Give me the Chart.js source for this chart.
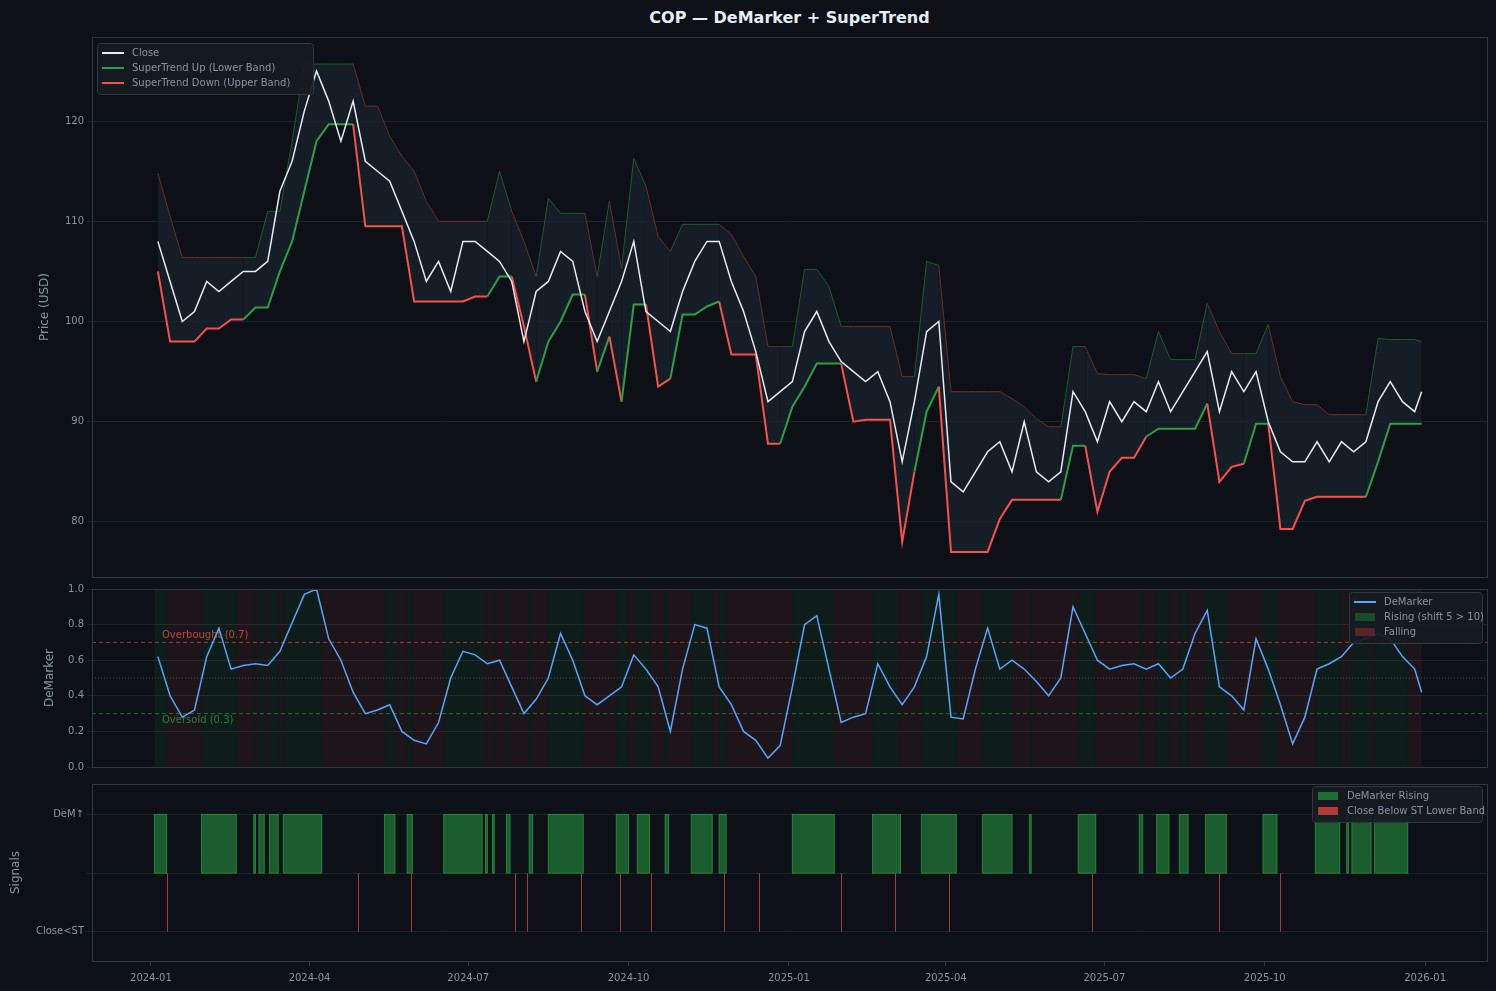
<!DOCTYPE html>
<html>
<head>
<meta charset="utf-8">
<script src="https://cdn.jsdelivr.net/npm/chart.js@4.4.1/dist/chart.umd.min.js"></script>
<style>
  body { margin: 0; background: #0d1117; width: 1496px; height: 991px; overflow: hidden; position: relative; font-family: "DejaVu Sans", sans-serif; }
  canvas { position: absolute; left: 0; }
  #title { position: absolute; top: 8px; left: 92px; width: 1395px; text-align: center; color: #e6edf3; font-weight: bold; font-size: 16px; }
</style>
</head>
<body>
<div id="title">COP — DeMarker + SuperTrend</div>
<canvas id="price" width="1496" height="586" style="top:0"></canvas>
<canvas id="dem" width="1496" height="200" style="top:580px"></canvas>
<canvas id="sig" width="1496" height="216" style="top:775px"></canvas>
<script>
// weekly samples, x = days since 2024-01-01
const days = Array.from({length: 104}, (_, k) => 4 + 7 * k).concat([729]);

const close = [108,104,100,101,104,103,104,105,105,106,
  113,116,121,125,122,118,122,116,115,114,
  111,108,104,106,103,108,108,107,106,104,
  98,103,104,107,106,101,98,101,104,108,
  101,100,99,103,106,108,108,104,101,97,
  92,93,94,99,101,98,96,95,94,95,
  92,86,92,99,100,84,83,85,87,88,
  85,90,85,84,85,93,91,88,92,90,
  92,91,94,91,93,95,97,91,95,93,
  95,90,87,86,86,88,86,88,87,88,
  92,94,92,91,93];

const lowerBand = [105,98,98,98,99.3,99.3,100.2,100.2,101.4,101.4,
  105,108,113,118,119.7,119.7,119.7,109.5,109.5,109.5,
  109.5,102,102,102,102,102,102.5,102.5,104.5,104.5,
  99.5,94,98,100,102.7,102.7,95,98.5,92,101.7,
  101.7,93.5,94.3,100.7,100.7,101.5,102,96.7,96.7,96.7,
  87.8,87.8,91.5,93.5,95.8,95.8,95.8,90,90.2,90.2,
  90.2,78,85,91,93.5,77,77,77,77,80.3,
  82.2,82.2,82.2,82.2,82.2,87.6,87.6,81,85,86.4,
  86.4,88.5,89.3,89.3,89.3,89.3,91.8,84,85.5,85.8,
  89.8,89.8,79.3,79.3,82.1,82.5,82.5,82.5,82.5,82.5,
  86,89.8,89.8,89.8,89.8];

const upperBand = [114.8,110.5,106.4,106.4,106.4,106.4,106.4,106.4,106.4,111,
  111,118,125.7,125.7,125.7,125.7,125.7,121.5,121.5,118.5,
  116.5,115,112,110,110,110,110,110,115,111,
  108,104.5,112.3,110.8,110.8,110.8,104.5,112,105.3,116.3,
  113.5,108.5,107,109.7,109.7,109.7,109.7,108.7,106.5,104.5,
  97.5,97.5,97.5,105.2,105.2,103.5,99.5,99.5,99.5,99.5,
  99.5,94.5,94.5,106,105.6,93,93,93,93,93,
  92.3,91.5,90.3,89.5,89.5,97.5,97.5,94.8,94.7,94.7,
  94.7,94.3,99,96.2,96.2,96.2,101.8,99,96.8,96.8,
  96.8,99.7,94.5,92,91.7,91.7,90.7,90.7,90.7,90.7,
  98.3,98.2,98.2,98.2,98];

// 1 = uptrend (green), 0 = downtrend (red)
const trendUp = [1,0,0,0,0,0,0,0,1,1,
  1,1,1,1,1,1,1,0,0,0,
  0,0,0,0,0,0,0,0,1,1,
  0,0,1,1,1,1,0,1,0,1,
  1,0,0,1,1,1,1,0,0,0,
  0,0,1,1,1,1,1,0,0,0,
  0,0,0,1,1,0,0,0,0,0,
  0,0,0,0,0,1,1,0,0,0,
  0,0,1,1,1,1,1,0,0,0,
  1,1,0,0,0,0,0,0,0,0,
  1,1,1,1,1];

const demarker = [0.62,0.40,0.28,0.32,0.62,0.78,0.55,0.57,0.58,0.57,
  0.65,0.81,0.97,1.0,0.72,0.60,0.42,0.30,0.32,0.35,
  0.20,0.15,0.13,0.25,0.50,0.65,0.63,0.58,0.60,0.45,
  0.30,0.38,0.50,0.75,0.60,0.40,0.35,0.40,0.45,0.63,
  0.55,0.45,0.20,0.55,0.80,0.78,0.45,0.35,0.20,0.15,
  0.05,0.12,0.45,0.80,0.85,0.55,0.25,0.28,0.30,0.58,
  0.45,0.35,0.45,0.62,0.97,0.28,0.27,0.55,0.78,0.55,
  0.60,0.55,0.48,0.40,0.50,0.90,0.75,0.60,0.55,0.57,
  0.58,0.55,0.58,0.50,0.55,0.75,0.88,0.45,0.40,0.32,
  0.72,0.55,0.35,0.13,0.28,0.55,0.58,0.62,0.70,0.72,
  0.75,0.72,0.62,0.55,0.42];

// [start, end] in days, DeMarker rising (shift 5 > 10)
const risingSpans = [[2,9],[29,49],[59,60],[62,65],[68,73],[76,98],[134,140],[147,150],
  [168,190],[192,193],[196,197],[204,206],[217,219],[228,248],[267,274],[279,286],
  [295,297],[310,322],[326,330],[368,392],[414,428],[429,430],[442,462],[477,494],
  [504,505],[532,542],[567,569],[577,584],[590,595],[605,617],[638,646],[668,682],
  [686,687],[689,700],[702,721]];
const closeBelowST = [9,119,149,209,216,247,269,287,329,349,396,427,458,540,613,648];

const xTickDays = [0,91,182,274,366,456,547,639,731];
const priceTicks = [80,90,100,110,120];

const GREEN = '#2ea043', RED = '#f85149', GRID = '#1d232b', TXT = '#8b949e';
const font = { family: 'DejaVu Sans', size: 10 };

function fmtDay(d) {
  const dt = new Date(2024, 0, 1 + d);
  return dt.getFullYear() + '-' + String(dt.getMonth() + 1).padStart(2, '0');
}

function xScale(showLabels) {
  const s = {
    type: 'linear', min: -33.8, max: 766.5, display: showLabels,
    afterBuildTicks: s => { s.ticks = xTickDays.map(v => ({ value: v })); },
    ticks: { color: TXT, font, callback: v => fmtDay(v), maxRotation: 0, padding: 6 },
    grid: { display: true, drawOnChartArea: false, color: '#30363d', tickLength: 5 },
    border: { display: false }
  };
  if (showLabels) s.afterFit = sc => { sc.height = 30; };
  return s;
}
function yFit(s) { s.width = 92; }

function legendBox(ctx, x, y, w, items) {
  ctx.save();
  const h = items.length * 15 + 6;
  ctx.fillStyle = 'rgba(22,27,34,0.92)';
  ctx.strokeStyle = '#30363d';
  ctx.lineWidth = 1;
  ctx.beginPath(); ctx.roundRect(x + 0.5, y + 0.5, w, h, 3); ctx.fill(); ctx.stroke();
  ctx.font = '10px "DejaVu Sans"';
  ctx.textBaseline = 'middle';
  items.forEach((it, i) => {
    const cy = y + 10 + i * 15;
    if (it.type === 'line') {
      ctx.strokeStyle = it.color; ctx.lineWidth = 2;
      ctx.beginPath(); ctx.moveTo(x + 5, cy); ctx.lineTo(x + 27, cy); ctx.stroke();
    } else {
      ctx.fillStyle = it.color; ctx.fillRect(x + 6, cy - 4, 20, 8);
    }
    ctx.fillStyle = TXT; ctx.fillText(it.text, x + 35, cy);
  });
  ctx.restore();
}

function frame(chart) {
  const a = chart.chartArea, ctx = chart.ctx;
  ctx.save(); ctx.strokeStyle = '#30363d'; ctx.lineWidth = 1;
  ctx.strokeRect(a.left + 0.5, a.top + 0.5, a.right - a.left, a.bottom - a.top);
  ctx.restore();
}

function axisTitle(chart, text, x) {
  const a = chart.chartArea, ctx = chart.ctx;
  ctx.save(); ctx.translate(x, (a.top + a.bottom) / 2); ctx.rotate(-Math.PI / 2);
  ctx.fillStyle = TXT; ctx.font = '12px "DejaVu Sans"'; ctx.textAlign = 'center'; ctx.textBaseline = 'middle';
  ctx.fillText(text, 0, 0); ctx.restore();
}

const pts = arr => arr.map((v, i) => ({ x: days[i], y: v }));

// ---- price panel
new Chart(document.getElementById('price'), {
  type: 'line',
  data: {
    datasets: [
      { label: 'Close', data: pts(close), borderColor: '#e6edf3', borderWidth: 1.5, pointRadius: 0, tension: 0 , order: 0},
      { label: 'SuperTrend Up (Lower Band)', data: pts(lowerBand), borderWidth: 2, pointRadius: 0, order: 1,
        segment: { borderColor: c => trendUp[c.p1DataIndex] ? GREEN : RED } },
      { label: 'SuperTrend Down (Upper Band)', data: pts(upperBand), borderWidth: 1, pointRadius: 0, order: 2,
        fill: { target: 1 }, backgroundColor: 'rgba(24,33,46,0.75)',
        segment: { borderColor: c => trendUp[c.p1DataIndex] ? '#1d5a2c' : '#6e2a2a' } }
    ]
  },
  options: {
    responsive: false, devicePixelRatio: 1, animation: false,
    layout: { padding: { top: 37, bottom: 1, right: 9, left: 0 } },
    plugins: { legend: { display: false }, tooltip: { enabled: false } },
    scales: {
      x: xScale(false),
      y: { min: 74.5, max: 128.4, afterFit: yFit,
        afterBuildTicks: s => { s.ticks = priceTicks.map(v => ({ value: v })); },
        ticks: { color: TXT, font }, grid: { color: GRID, tickLength: 5 }, border: { display: false } }
    }
  },
  plugins: [{
    id: 'deco',
    afterDraw: c => {
      frame(c); axisTitle(c, 'Price (USD)', 45);
      legendBox(c.ctx, 97, 43, 216, [
        { type: 'line', color: '#e6edf3', text: 'Close' },
        { type: 'line', color: GREEN, text: 'SuperTrend Up (Lower Band)' },
        { type: 'line', color: RED, text: 'SuperTrend Down (Upper Band)' }]);
    }
  }]
});

// ---- DeMarker panel
function fallingSpans() {
  const out = []; let s = 2;
  risingSpans.forEach(r => { if (r[0] > s) out.push([s, r[0]]); s = r[1]; });
  if (s < 729) out.push([s, 729]);
  return out;
}
new Chart(document.getElementById('dem'), {
  type: 'line',
  data: { datasets: [
    { label: 'DeMarker', data: pts(demarker), borderColor: '#58a6ff', borderWidth: 1.5, pointRadius: 0 }
  ] },
  options: {
    responsive: false, devicePixelRatio: 1, animation: false,
    layout: { padding: { top: 5, bottom: 13, right: 9, left: 0 } },
    plugins: { legend: { display: false }, tooltip: { enabled: false } },
    scales: {
      x: xScale(false),
      y: { min: 0, max: 1, afterFit: yFit,
        ticks: { stepSize: 0.2, color: TXT, font, callback: v => v.toFixed(1) },
        grid: { color: GRID, tickLength: 5 }, border: { display: false } }
    }
  },
  plugins: [{
    id: 'bg',
    beforeDatasetsDraw: c => {
      const ctx = c.ctx, x = c.scales.x, y = c.scales.y, a = c.chartArea;
      ctx.save();
      ctx.fillStyle = 'rgba(248,81,73,0.08)';
      fallingSpans().forEach(s => ctx.fillRect(x.getPixelForValue(s[0]), a.top, x.getPixelForValue(s[1]) - x.getPixelForValue(s[0]), a.bottom - a.top));
      ctx.fillStyle = 'rgba(46,160,67,0.09)';
      risingSpans.forEach(s => ctx.fillRect(x.getPixelForValue(s[0]), a.top, x.getPixelForValue(s[1]) - x.getPixelForValue(s[0]), a.bottom - a.top));
      const hl = (v, col, dash) => {
        ctx.strokeStyle = col; ctx.setLineDash(dash); ctx.lineWidth = 1;
        ctx.beginPath(); ctx.moveTo(a.left, y.getPixelForValue(v)); ctx.lineTo(a.right, y.getPixelForValue(v)); ctx.stroke();
      };
      hl(0.7, 'rgba(248,81,73,0.6)', [4, 3]);
      hl(0.3, 'rgba(46,160,67,0.6)', [4, 3]);
      hl(0.5, 'rgba(139,148,158,0.45)', [1, 2]);
      ctx.setLineDash([]);
      ctx.font = '10px "DejaVu Sans"'; ctx.textBaseline = 'bottom';
      ctx.fillStyle = 'rgba(248,81,73,0.75)'; ctx.fillText('Overbought (0.7)', 162, y.getPixelForValue(0.7) - 2);
      ctx.fillStyle = 'rgba(46,160,67,0.75)'; ctx.textBaseline = 'top';
      ctx.fillText('Oversold (0.3)', 162, y.getPixelForValue(0.3) + 2);
      ctx.restore();
    },
    afterDraw: c => {
      frame(c); axisTitle(c, 'DeMarker', 50);
      legendBox(c.ctx, 1349, 12, 133, [
        { type: 'line', color: '#58a6ff', text: 'DeMarker' },
        { type: 'box', color: 'rgba(35,134,54,0.45)', text: 'Rising (shift 5 > 10)' },
        { type: 'box', color: 'rgba(218,54,51,0.35)', text: 'Falling' }]);
    }
  }]
});

// ---- signals panel
new Chart(document.getElementById('sig'), {
  type: 'line',
  data: { datasets: [{ data: [] }] },
  options: {
    responsive: false, devicePixelRatio: 1, animation: false,
    layout: { padding: { top: 6, bottom: 0, right: 9, left: 0 } },
    plugins: { legend: { display: false }, tooltip: { enabled: false } },
    scales: {
      x: xScale(true),
      y: { min: -0.25, max: 1.26, afterFit: yFit,
        afterBuildTicks: s => { s.ticks = [0, 0.5, 1].map(v => ({ value: v })); },
        ticks: { color: TXT, font, callback: v => v === 1 ? 'DeM↑' : (v === 0 ? 'Close<ST' : '') },
        grid: { color: GRID, tickLength: 5 }, border: { display: false } }
    }
  },
  plugins: [{
    id: 'sig',
    beforeDatasetsDraw: c => {
      const ctx = c.ctx, x = c.scales.x, y = c.scales.y;
      ctx.save();
      ctx.fillStyle = '#1a5c2e'; ctx.strokeStyle = '#238636'; ctx.lineWidth = 1;
      risingSpans.forEach(s => {
        const x0 = x.getPixelForValue(s[0]), x1 = x.getPixelForValue(s[1]);
        ctx.fillRect(x0, y.getPixelForValue(1), x1 - x0, y.getPixelForValue(0.5) - y.getPixelForValue(1));
        ctx.strokeRect(x0, y.getPixelForValue(1), x1 - x0, y.getPixelForValue(0.5) - y.getPixelForValue(1));
      });
      ctx.strokeStyle = '#a33a3a';
      closeBelowST.forEach(d => {
        const px = Math.round(x.getPixelForValue(d)) + 0.5;
        ctx.beginPath(); ctx.moveTo(px, y.getPixelForValue(0.5)); ctx.lineTo(px, y.getPixelForValue(0)); ctx.stroke();
      });
      ctx.restore();
    },
    afterDraw: c => {
      frame(c); axisTitle(c, 'Signals', 16);
      legendBox(c.ctx, 1312, 11, 170, [
        { type: 'box', color: '#1f6f35', text: 'DeMarker Rising' },
        { type: 'box', color: '#b03a3a', text: 'Close Below ST Lower Band' }]);
    }
  }]
});
</script>
</body>
</html>
